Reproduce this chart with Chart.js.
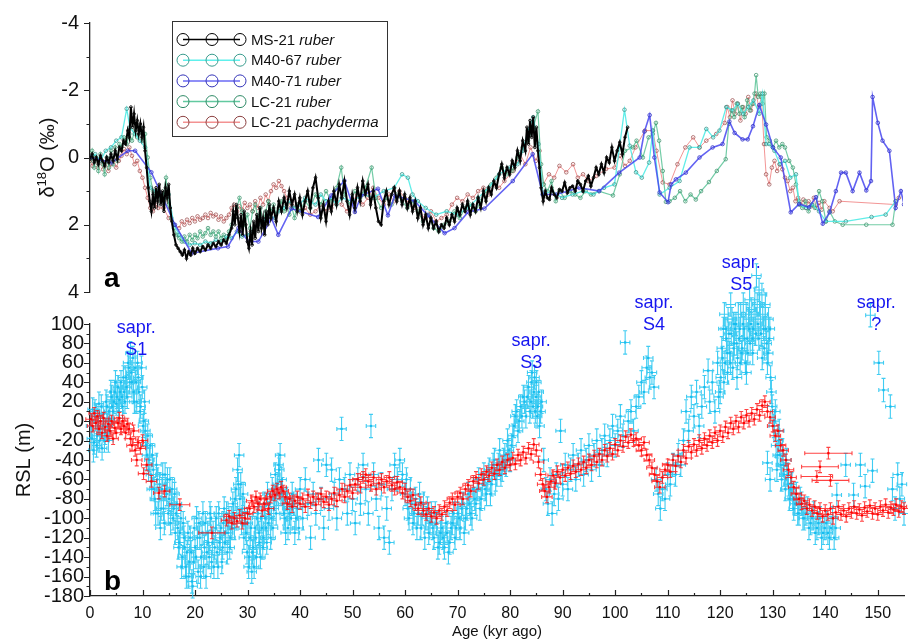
<!DOCTYPE html>
<html>
<head>
<meta charset="utf-8">
<script src="https://cdn.jsdelivr.net/npm/chart.js@4.4.0/dist/chart.umd.min.js"></script>
<style>
  body { margin: 0; background: #fff; }
  #wrap { position: relative; width: 908px; height: 641px; }
  #wrap canvas { position: absolute; left: 0; top: 0; }
</style>
</head>
<body>
<div id="wrap">
  <canvas id="rslChart" width="908" height="641"></canvas>
  <canvas id="isoChart" width="908" height="641"></canvas>
</div>
<script>
// tick labels
const ageTicks = [0, 10, 20, 30, 40, 50, 60, 70, 80, 90, 100, 110, 120, 130, 140, 150];
const d18oTicks = [-4, -2, 0, 2, 4];
const rslTicks = [-180, -160, -140, -120, -100, -80, -60, -40, -20, 0, 20, 40, 60, 80, 100];

// panel a : d18O records, [age kyr, d18O permil]
const ms21Ruber = [[0,0.05],[0.4,-0.1],[0.8,0.15],[1.2,0],[1.6,0.2],[2.0,-0.05],[2.4,0.1],[2.8,0.25],[3.2,0],[3.6,0.15],[4.0,-0.1],[4.4,0.1],[4.8,-0.2],[5.2,0.05],[5.6,-0.3],[6.0,-0.2],[6.4,-0.5],[6.8,-0.4],[7.2,-0.8],[7.5,-0.6],[7.8,-1.5],[8.1,-0.9],[8.4,-1.3],[8.7,-0.8],[9.0,-1.1],[9.3,-0.7],[9.6,-1.0],[9.9,-0.6],[10.2,-0.9],[10.5,-0.2],[10.8,0.3],[11.1,0.9],[11.4,1.3],[11.7,1.6],[12.0,1.1],[12.3,1.5],[12.6,0.9],[12.9,1.3],[13.2,0.8],[13.5,1.4],[13.8,1.0],[14.1,1.6],[14.4,0.9],[14.7,1.2],[15.0,0.8],[15.3,1.5],[15.6,1.9],[16.0,2.3],[16.4,2.6],[16.8,2.7],[17.2,2.8],[17.6,2.9],[18.0,2.75],[18.4,3.0],[18.8,2.8],[19.2,2.9],[19.6,2.7],[20.0,2.85],[20.5,2.7],[21.0,2.8],[21.5,2.65],[22.0,2.75],[22.5,2.6],[23.0,2.7],[23.5,2.55],[24.0,2.65],[24.5,2.5],[25.0,2.6],[25.5,2.45],[26.0,2.55],[26.5,2.3],[27.0,2.1],[27.3,1.6],[27.6,2.0],[27.9,1.4],[28.2,1.8],[28.5,2.2],[28.8,1.7],[29.1,2.3],[29.4,1.6],[29.7,2.0],[30.0,2.5],[30.3,2.7],[30.6,2.2],[30.9,2.6],[31.2,1.9],[31.5,2.4],[31.8,1.7],[32.1,2.2],[32.4,1.5],[32.7,2.1],[33.0,1.8],[33.3,2.3],[33.6,1.6],[33.9,2.0],[34.2,1.4],[34.5,1.8],[35.0,1.5],[35.5,1.9],[36.0,1.3],[36.5,1.6],[37.0,1.2],[37.5,1.5],[38.0,1.0],[38.5,1.4],[39.0,1.1],[39.5,1.6],[40.0,1.2],[40.5,1.7],[41.0,1.3],[41.5,1.0],[42.0,1.5],[42.5,0.9],[43.0,0.6],[43.5,1.2],[44.0,1.8],[44.5,1.4],[45.0,1.9],[45.5,1.3],[46.0,1.6],[46.5,1.0],[47.0,1.4],[47.5,0.8],[48.0,1.2],[48.5,0.7],[49.0,1.3],[49.5,1.7],[50.0,1.1],[50.5,1.5],[51.0,0.9],[51.5,1.3],[52.0,0.7],[52.5,1.1],[53.0,0.8],[53.5,1.4],[54.0,1.0],[54.5,1.5],[55.0,1.9],[55.5,2.0],[56.0,1.3],[56.5,1.0],[57.0,1.4],[57.5,1.1],[58.0,0.9],[58.5,1.3],[59.0,1.0],[59.5,1.4],[60.0,1.1],[60.5,1.5],[61.0,1.2],[61.5,1.6],[62.0,1.3],[62.5,1.8],[63.0,1.5],[63.5,2.0],[64.0,1.7],[64.5,2.1],[65.0,1.8],[65.5,2.1],[66.0,1.9],[66.5,2.2],[67.0,2.0],[67.5,2.1],[68.0,1.8],[68.5,2.0],[69.0,1.7],[69.5,1.9],[70.0,1.5],[70.5,1.7],[71.0,1.4],[71.5,1.6],[72.0,1.3],[72.5,1.7],[73.0,1.4],[73.5,1.6],[74.0,1.2],[74.5,1.5],[75.0,1.0],[75.5,1.3],[76.0,0.9],[76.5,1.1],[77.0,0.7],[77.5,0.9],[78.0,0.5],[78.5,0.2],[79.0,0.6],[79.5,0.3],[80.0,0.5],[80.5,0.1],[81.0,0.3],[81.5,-0.2],[82.0,0.1],[82.5,-0.5],[83.0,-0.2],[83.3,-0.9],[83.6,-0.4],[83.9,-1.1],[84.2,-0.6],[84.5,-1.2],[84.8,-0.3],[85.1,-0.9],[85.4,-0.2],[85.7,0.3],[86.0,0.9],[86.4,1.3],[86.8,1.0],[87.2,1.2],[87.6,1.25],[88.0,0.9],[88.5,1.1],[89.0,1.2],[89.5,0.95],[90.0,1.0],[90.5,0.75],[91.0,1.05],[91.5,0.9],[92.0,0.85],[92.5,1.0],[93.0,0.7],[93.5,0.8],[94.0,1.0],[94.5,0.7],[95.0,0.55],[95.5,0.85],[96.0,0.6],[96.5,0.3],[97.0,0.5],[97.5,0.2],[98.0,0.45],[98.5,0.0],[99.0,0.15],[99.5,-0.3],[100.0,0.1],[100.5,-0.2],[101.0,-0.45],[101.5,-0.1],[102.0,-0.6],[102.5,-0.9]];
const m4067Ruber = [[0,0],[1,-0.1],[2,0.1],[3,-0.2],[4,-0.3],[5,-0.5],[6,-0.6],[7.0,-1.45],[7.6,-0.9],[8.5,-0.7],[9.5,-0.5],[10.5,-0.3],[11.5,0.9],[12.5,1.0],[14,1.3],[15,1.1],[16,2.0],[17,2.3],[18,2.5],[19,2.6],[20,2.55],[21,2.6],[22,2.5],[23,2.55],[24,2.45],[25,2.5],[26,2.35],[27,2.4],[28,2.2],[29,2.35],[30,2.3],[31,2.2],[32,2.0],[33,1.9],[34,1.7],[35,1.8],[36,1.6],[37,1.5],[38,1.3],[39,1.5],[40,1.4],[41,1.2],[42,1.3],[43,1.4],[44,1.1],[45,1.3],[46,1.2],[47,1.4],[48,1.2],[50,1.3],[52,1.1],[54,1.2],[56,1.0],[58,0.9],[59.5,0.5],[60.6,0.6],[61.5,1.1],[62.5,1.3],[64,1.5],[66,1.7],[68,1.6],[70,1.7],[72,1.5],[74,1.2],[76,0.9],[78,0.5],[80,0.3],[81.5,0.2],[82.5,-0.2],[83.5,-0.8],[84.5,-1.2],[85.5,-0.4],[86.4,1.1],[88,1.0],[90,1.2],[92,1.1],[94,1.0],[96,1.1],[98,0.9],[100,0.8],[101.9,-1.42],[102.9,-0.35],[104.1,0.44],[105.2,0.6],[106.6,0.15],[107.3,-0.8],[108.6,1.1],[110.5,0.9],[112.4,0.7],[114.3,-0.3],[116.2,-0.3],[117.5,-0.85],[118.8,-0.6],[120,-0.8],[121.3,-1.5],[122.5,-1.4],[123.5,-1.6],[124.5,-1.3],[125.5,-1.5],[126.5,-1.7],[127.6,-1.3],[128.2,-1.9],[128.9,-0.4],[129.5,-0.4],[130.5,-0.2],[131.5,0.2],[132.5,0.1],[133.5,0.6],[134.6,0.5],[135.2,1.4],[136.5,1.5],[137.7,1.4],[139,1.6],[140.3,1.9],[144.1,1.9],[149,1.77],[151.7,1.7],[153.6,1.3]];
const m4071Ruber = [[0,0],[4.1,0.15],[7.2,-0.2],[8.6,-0.2],[11.7,0.44],[16.2,2.0],[19.4,2.85],[24.4,2.7],[26.3,2.65],[28.3,2.1],[30.2,2.5],[32.1,2.5],[34.6,1.81],[35.9,2.3],[38.4,1.52],[43.5,1.77],[46,1.13],[48.5,0.69],[50.5,1.62],[51.7,1.13],[54.9,0.93],[56.8,1.72],[58.1,1.13],[61.9,1.3],[64.4,1.72],[67.6,2.25],[69.5,2.1],[72.1,1.62],[75.2,1.52],[80.6,0.7],[84.4,-0.1],[86.3,1.1],[88.9,1.1],[93.3,0.9],[97.1,1.0],[100.9,0.45],[104.8,0.0],[105.7,-0.77],[106.7,-1.26],[107.6,0.0],[108.6,1.04],[110.2,1.33],[110.8,0.8],[111.7,0.65],[113.6,0.45],[116.2,0.0],[118.7,-0.3],[120.6,-0.4],[121.9,-1.07],[122.9,-0.73],[124.4,-0.54],[125.4,-0.54],[126.4,-0.93],[127.6,-1.56],[128.9,-0.98],[130.2,-0.3],[131.7,0.0],[133.6,1.63],[135.2,1.38],[137.1,1.48],[138.4,1.18],[139.7,1.97],[141,1.63],[142.2,1.0],[143.2,0.45],[144.1,0.45],[145.4,1.0],[146.7,0.45],[148,0.98],[148.9,0.7],[149.2,-1.8],[150.2,-1.03],[151.1,-0.5],[152.4,-0.2],[153.6,1.5],[154.6,1.0],[155.2,1.4]];
const lc21Ruber = [[0,0.1],[0.4,-0.2],[0.8,0.3],[1.2,0.0],[1.6,0.4],[2.0,-0.1],[2.4,0.2],[2.8,0.5],[3.2,0.0],[3.6,0.3],[4.0,-0.2],[4.4,0.2],[4.8,-0.3],[5.2,0.1],[5.6,-0.4],[6.0,-0.3],[6.5,-0.6],[7.0,-0.4],[7.5,-0.7],[8.0,-0.5],[8.5,-0.8],[9.0,-0.6],[9.5,-0.9],[10.0,-0.5],[10.5,-0.7],[11.0,0.0],[11.5,0.6],[12.0,1.0],[12.5,1.2],[13.0,1.0],[13.5,1.3],[14.0,1.1],[14.5,0.6],[15.0,1.4],[15.5,1.8],[16.0,2.1],[16.5,2.3],[17.0,2.4],[17.5,2.5],[18.0,2.35],[18.5,2.5],[19.0,2.3],[19.5,2.45],[20.0,2.3],[20.5,2.4],[21.0,2.2],[21.5,2.35],[22.0,2.25],[22.5,2.1],[23.0,2.3],[23.5,2.2],[24.0,2.35],[24.5,2.2],[25.0,2.4],[25.5,2.3],[26.0,2.45],[26.5,2.2],[27.0,2.0],[27.5,1.8],[28.0,1.5],[28.5,1.2],[29.0,1.6],[29.5,2.0],[30.0,1.7],[30.5,2.1],[31.0,1.6],[31.5,1.4],[32.0,1.8],[32.5,1.5],[33.0,1.9],[33.5,1.6],[34.0,1.3],[34.5,1.6],[35.0,1.4],[35.5,1.7],[36.0,1.5],[36.5,1.3],[37.0,1.6],[37.5,1.4],[38.0,1.7],[38.5,1.5],[39.0,1.8],[39.5,1.4],[40.0,1.6],[41,1.3],[42,1.5],[43,1.1],[44,1.4],[45,1.0],[46,1.3],[47,0.9],[47.9,0.3],[48.5,1.1],[49.5,1.4],[50.5,1.0],[51.5,1.2],[52.5,0.9],[53.7,0.3],[54.5,1.2],[55.5,1.5],[56.5,1.2],[57.5,1.4],[58.5,1.1],[59.5,1.3],[60.5,1.5],[61.5,1.3],[62.5,1.6],[63.5,1.9],[64.5,1.7],[65.5,2.1],[66.5,2.2],[67.5,2.0],[68.5,1.9],[69.5,1.6],[70.5,1.8],[71.5,1.5],[72.5,1.4],[73.5,1.6],[74.5,1.3],[75.5,1.0],[76.5,0.8],[77.5,0.6],[78.5,0.3],[79.5,0.5],[80.5,0.4],[81.5,0.0],[82.5,-0.3],[83.5,-0.5],[84.5,-0.9],[85.4,-1.37],[86.0,0.2],[86.5,0.8],[87.2,1.0],[88.0,0.7],[88.8,1.3],[89.5,1.0],[90.5,1.2],[91.5,1.0],[92.5,1.1],[93.5,1.2],[94.5,1.0],[95.5,1.1],[97,1.0],[99.7,1.13],[101,0.5],[102,-0.2],[103.5,-0.3],[104.2,-0.5],[105.4,0.0],[106.5,-0.6],[107.3,-0.7],[107.9,-1.03],[108.5,-0.5],[109.2,0.4],[109.8,1.32],[110.5,1.3],[111.5,1.2],[112.5,1.0],[113.5,1.3],[114.5,1.1],[115.5,1.25],[116.5,1.0],[118,0.73],[119.5,0.4],[121.2,0.05],[121.8,-1.0],[122.3,-1.4],[122.8,-1.2],[123.3,-1.6],[123.8,-1.3],[124.3,-1.5],[124.8,-1.2],[125.3,-1.7],[125.8,-1.4],[126.3,-1.6],[126.7,-1.9],[127.0,-2.45],[127.4,-1.8],[127.8,-1.9],[128.2,-1.6],[128.6,-1.9],[129.0,-0.6],[129.6,-0.5],[130.2,-0.3],[130.8,-0.5],[131.4,-0.3],[132,-0.4],[132.5,-0.3],[133.3,0.1],[134,0.3],[134.6,0.8],[135.2,1.3],[135.8,1.5],[136.4,1.3],[137,1.6],[137.6,1.4],[138.2,1.5],[139,1.0],[139.6,1.3],[140.3,1.9],[141,1.6],[142,1.9],[143.5,2.0],[148,2.0],[153,2.0],[153.6,1.3]];
const lc21Pachyderma = [[0,0.1],[0.5,0.25],[1,0.0],[1.5,0.3],[2,0.1],[2.5,0.35],[3,0.15],[3.5,0.4],[4,0.2],[4.5,0.05],[5,0.3],[5.5,0.1],[6,-0.05],[6.5,-0.25],[7,-0.1],[7.5,-0.3],[8,-0.05],[8.5,0.2],[9,0.1],[9.5,0.4],[10,0.6],[10.5,0.9],[11,1.2],[11.5,1.5],[12,1.6],[12.5,1.4],[13,1.5],[14,1.5],[15,1.8],[16,2.0],[17,2.1],[17.5,1.9],[18,2.0],[18.5,1.85],[19,1.95],[19.5,1.8],[20,1.9],[20.5,1.75],[21,1.85],[21.5,1.8],[22,1.7],[22.5,1.8],[23,1.65],[23.5,1.75],[24,1.7],[24.5,1.85],[25,1.75],[25.5,1.9],[26,1.8],[26.5,1.7],[27,1.5],[27.5,1.4],[28,1.6],[28.5,1.45],[29,1.55],[29.5,1.35],[30,1.5],[30.5,1.4],[31,1.6],[31.5,1.3],[32,1.5],[32.5,1.2],[33,1.4],[33.5,1.1],[34,1.3],[34.5,1.0],[35,0.8],[35.5,0.9],[36,0.7],[36.5,0.85],[37,1.0],[37.5,1.2],[38,1.4],[38.5,1.3],[39,1.5],[39.5,1.4],[40,1.6],[41,1.5],[42,1.7],[43,1.6],[44,1.4],[45,1.6],[46,1.5],[47,1.3],[48,1.4],[49,1.6],[50,1.3],[51,1.1],[52,1.4],[53,1.2],[54,0.9],[55,1.2],[56,1.4],[57,1.1],[58,1.3],[59,1.0],[60,1.2],[61,1.4],[62,1.5],[63,1.7],[64,1.8],[65,1.6],[66,1.9],[67,1.8],[68,1.7],[69,1.4],[70,1.2],[71,1.3],[72,1.1],[73,1.2],[74,1.0],[75,0.9],[76,1.1],[77,0.8],[78,0.9],[79,0.7],[80.7,0.4],[82,-0.1],[83,0.2],[84,-0.3],[85,0.1],[85.7,-0.2],[86.4,0.8],[87.5,0.5],[88.5,0.6],[89.5,0.25],[90.8,0.44],[92.1,0.2],[93,0.6],[94,0.5],[95,0.7],[96.5,0.55],[98.4,0.34],[100,0.3],[101,-0.05],[102,0.25],[102.9,0.1],[104,-0.3],[105.8,-0.8],[107.3,-0.8],[108,-0.2],[109.2,0.74],[110.5,0.8],[112,0.2],[113.5,-0.3],[115,-0.6],[116.2,-0.3],[117.5,-0.5],[119.4,-0.7],[121,-1.03],[121.5,-1.5],[122,-1.2],[122.5,-1.7],[123,-1.3],[123.5,-1.6],[124,-1.1],[124.5,-1.5],[125,-1.3],[125.5,-1.8],[126,-1.4],[126.5,-1.6],[127,-1.9],[127.5,-1.5],[128,-1.8],[128.5,-0.4],[128.9,0.5],[129.5,0.8],[130,0.3],[130.5,0.1],[131,0.4],[131.5,0.2],[132,0.35],[132.5,0.6],[133,0.7],[133.5,1.0],[134,0.9],[134.5,1.3],[135,1.2],[135.5,1.4],[136,1.25],[136.5,1.5],[137,1.3],[137.5,1.45],[138,1.2],[138.5,1.5],[139,1.35],[139.5,1.55],[140,1.3],[141,1.5],[141.6,1.6],[142.9,1.3],[153.6,1.4],[154.2,1.2]];

// panel b : relative sea level, [age kyr, RSL m]
const rslCyan = [[0.2,-5],[0.5,12],[0.8,-22],[1.1,5],[1.4,-15],[1.7,18],[2.0,-8],[2.3,-28],[2.6,8],[2.9,-12],[3.2,15],[3.5,-20],[3.8,2],[4.1,25],[4.4,10],[4.7,30],[5.0,18],[5.3,35],[5.6,22],[5.9,40],[6.2,15],[6.5,30],[6.8,45],[7.1,25],[7.4,55],[7.7,70],[8.0,40],[8.3,30],[8.6,55],[8.9,20],[9.2,45],[9.5,10],[9.8,55],[10.1,-5],[10.4,20],[10.7,-25],
  [11.0,-15],[11.3,-40],[11.6,-55],[11.9,-35],[12.2,-70],[12.5,-95],[12.8,-60],[13.1,-80],[13.4,-110],[13.7,-70],[14.0,-90],[14.3,-55],[14.6,-75],[14.9,-95],[15.2,-60],[15.5,-85],[15.8,-100],[16.1,-75],[16.4,-95],[16.7,-110],[17.0,-125],[17.3,-100],[17.6,-140],[17.9,-120],[18.2,-150],[18.5,-135],[18.8,-160],[19.1,-120],[19.4,-165],[19.7,-145],[20.0,-130],
  [20.3,-100],[20.6,-155],[20.9,-120],[21.2,-140],[21.5,-95],[21.8,-130],[22.1,-160],[22.4,-115],[22.7,-140],[23.0,-100],[23.3,-125],[23.6,-150],[23.9,-110],[24.2,-135],[24.5,-95],[24.8,-120],[25.1,-145],[25.4,-105],[25.7,-125],[26.0,-95],[26.3,-115],[26.6,-130],[26.9,-100],[27.2,-85],[27.5,-110],[27.8,-70],[28.1,-50],[28.4,-35],[28.7,-65],[29.0,-90],[29.3,-120],[29.6,-105],[29.9,-135],
  [30.2,-150],[30.5,-120],[30.8,-155],[31.1,-130],[31.4,-110],[31.7,-140],[32.0,-95],[32.3,-125],[32.6,-100],[32.9,-130],[33.2,-85],[33.5,-110],[33.8,-75],[34.1,-95],[34.4,-120],[34.7,-70],[35.0,-90],[35.3,-55],[35.6,-75],[35.9,-45],[36.2,-35],[36.5,-60],[36.8,-85],[37.1,-100],[37.4,-80],[37.7,-110],[38.0,-95],[38.5,-75],[39.0,-115],[39.5,-90],[40.0,-70],
  [40.5,-100],[41.0,-60],[41.5,-85],[42.0,-120],[42.5,-75],[43.0,-95],[43.5,-40],[44.0,-80],[44.5,-110],[45.0,-45],[45.5,-90],[46.0,-50],[46.5,-75],[47.0,-100],[47.5,-60],[47.9,-8],[48.5,-70],[49.0,-95],[49.5,-55],[50.0,-80],
  [50.5,-105],[51.0,-60],[51.5,-85],[52.0,-45],[52.5,-70],[53.0,-95],[53.5,-5],[54.0,-55],[54.5,-80],[55.0,-110],[55.5,-65],[56.0,-120],[56.5,-90],[57.0,-125],[57.5,-70],[58.0,-45],[58.5,-60],[59.0,-40],[59.5,-55],[60.0,-75],
  [60.5,-90],[61.0,-70],[61.5,-105],[62.0,-80],[62.5,-95],[63.0,-110],[63.5,-85],[64.0,-100],[64.5,-115],[65.0,-95],[65.5,-120],[66.0,-105],[66.5,-125],[67.0,-110],[67.5,-130],[68.0,-115],[68.5,-125],[69.0,-105],[69.5,-120],[70.0,-95],
  [70.5,-110],[71.0,-85],[71.5,-100],[72.0,-75],[72.5,-95],[73.0,-70],[73.5,-85],[74.0,-60],[74.5,-80],[75.0,-55],[75.5,-75],[76.0,-50],[76.5,-65],[77.0,-40],[77.5,-55],[78.0,-30],[78.5,-50],[79.0,-35],[79.5,-20],[80.0,-40],
  [80.5,-15],[81.0,5],[81.5,-10],[82.0,15],[82.5,25],[83.0,5],[83.5,35],[84.0,20],[84.2,50],[84.5,30],[84.8,10],[85.0,40],[85.3,15],[85.6,-5],[86.0,20],[86.4,-40],[86.8,-70],[87.2,-85],[87.6,-60],[88.0,-95],[88.4,-75],[88.8,-55],[89.2,-80],[89.6,-10],[90.0,-65],
  [90.5,-45],[91.0,-70],[91.5,-50],[92.0,-35],[92.5,-60],[93.0,-45],[93.5,-30],[94.0,-55],[94.5,-40],[95.0,-25],[95.5,-50],[96.0,-35],[96.5,-20],[97.0,-45],[97.5,-30],[98.0,-15],[98.5,-35],[99.0,-20],[99.5,-5],[100.0,-25],
  [100.5,-10],[101.0,5],[101.5,-15],[101.9,81],[102.5,0],[103.0,10],[103.5,-10],[104.0,15],[104.5,25],[105.0,40],[105.5,30],[106.0,55],[106.3,65],[106.6,45],[107.0,50],[107.4,35],[107.8,-60],[108.2,-75],[108.6,-90],[109.0,-70],[109.5,-80],[110.0,-55],
  [110.5,-65],[111.0,-45],[111.5,-55],[112.0,-35],[112.5,-45],[113.0,-20],[113.5,10],[114.0,-10],[114.5,25],[115.0,5],[115.5,30],[116.0,-5],[116.5,15],[117.0,35],[117.7,52],[118.0,20],[118.5,40],[119.0,10],[119.5,60],[120.0,30],
  [120.1,45],[120.3,75],[120.6,95],[120.8,110],[120.9,60],[121.2,85],[121.4,50],[121.5,105],[121.8,70],[122.0,120],[122.1,90],[122.4,55],[122.6,100],[122.7,80],[123.0,100],[123.2,45],[123.3,65],[123.6,85],[123.8,60],[123.9,110],[124.2,75],[124.4,120],[124.5,95],[124.8,60],[125.0,50],[125.1,85],[125.4,105],[125.6,125],[125.7,80],[126.0,115],[126.2,70],[126.3,95],[126.6,125],[126.8,105],[126.9,150],[127.2,100],[127.4,135],[127.5,120],[127.8,90],[128.0,65],[128.1,110],[128.4,75],[128.6,120],[128.7,95],[129.0,60],[129.2,105],[129.3,85],[129.6,45],
  [129.0,-43],[129.5,-60],[129.9,15],[130.2,-5],[130.5,10],[130.8,-50],[131.1,-20],[131.4,-35],[131.7,-60],[132.0,-45],[132.4,-70],[132.8,-55],[133.2,-80],[133.6,-65],[134.0,-90],[134.5,-75],[135.0,-95],[135.5,-85],[136.0,-100],[136.6,-90],[137.2,-105],[137.8,-95],[138.4,-110],[139.0,-100],[139.6,-115],[140.2,-105],
  [140.8,-120],[141.4,-100],[142.0,-110],[142.2,-76],[143.9,-45],[145.4,-76],[146.7,-45],[147.6,-67],[148.6,109],[149.0,-51],[150.2,60],[151.1,32],[152.4,15],[152.8,-70],[153.3,-90],[153.8,-55],[154.2,-80],[154.6,-65],[155.0,-95]];
// more cyan samples where the record is densest
const rslCyanDense = [[0.35,-18],[0.65,-30],[0.95,10],[1.25,-25],[1.55,0],[1.85,-20],[2.15,15],[2.45,-5],[2.75,-20],[3.05,20],[3.35,-5],[3.65,10],[3.95,30],[4.25,15],[4.55,20],[4.85,40],[5.15,25],[5.45,10],[5.75,30],[6.05,25],[6.35,45],[6.65,20],[6.95,35],[7.25,60],[7.55,40],[7.85,50],[8.15,65],[8.45,20],[8.75,40],[9.05,60],[9.35,30],[9.65,15],[9.95,35],[10.25,0],[10.55,-10],[10.85,-35],
  [11.15,-50],[11.45,-25],[11.75,-70],[12.05,-50],[12.35,-80],[12.65,-45],[12.95,-95],[13.25,-65],[13.55,-90],[13.85,-55],[14.15,-105],[14.45,-70],[14.75,-60],[15.05,-80],[15.35,-105],[15.65,-70],[15.95,-90],[16.25,-115],[16.55,-85],[16.85,-130],[17.15,-115],[17.45,-150],[17.75,-105],[18.05,-130],[18.35,-160],[18.65,-115],[18.95,-145],[19.25,-135],[19.55,-170],[19.85,-110],
  [20.15,-140],[20.45,-120],[20.75,-105],[21.05,-160],[21.35,-115],[21.65,-150],[21.95,-105],[22.25,-135],[22.55,-125],[22.85,-95],[23.15,-145],[23.45,-115],[23.75,-130],[24.05,-100],[24.35,-150],[24.65,-125],[24.95,-110],[25.25,-130],[25.55,-90],[25.85,-115],[26.15,-135],[26.45,-100],[26.75,-120],[27.05,-110],[27.35,-95],[27.65,-80],[27.95,-100],[28.25,-65],[28.55,-80],[28.85,-105],[29.15,-75],[29.45,-95],[29.75,-115],
  [30.05,-105],[30.35,-140],[30.65,-110],[30.95,-135],[31.25,-150],[31.55,-120],[31.85,-100],[32.15,-115],[32.45,-140],[32.75,-110],[33.05,-120],[33.35,-100],[33.65,-125],[33.95,-105],[34.25,-85],[34.55,-100],[34.85,-110],[35.15,-80],[35.45,-95],[35.75,-65],[36.05,-50],[36.35,-75],[36.65,-70],[36.95,-95],[37.25,-115],[37.55,-90],[38.25,-100],[38.75,-85],[39.25,-100],[39.75,-110],
  [60.25,-60],[60.75,-100],[61.25,-85],[61.75,-95],[62.25,-110],[62.75,-75],[63.25,-95],[63.75,-120],[64.25,-90],[64.75,-105],[65.25,-110],[65.75,-95],[66.25,-130],[66.75,-115],[67.25,-120],[67.75,-105],[68.25,-135],[68.75,-110],[69.25,-95],[69.75,-110],[70.25,-100],[70.75,-90],[71.25,-115],[71.75,-90],[72.25,-85],[72.75,-100],[73.25,-80],[73.75,-70],[74.25,-90],[74.75,-65],[75.25,-70],[75.75,-60],[76.25,-75],[76.75,-45],[77.25,-60],[77.75,-45],[78.25,-55],[78.75,-40],[79.25,-45],[79.75,-30],
  [80.25,-25],[80.75,-5],[81.25,10],[81.75,0],[82.25,5],[82.75,20],[83.25,25],[83.75,10],[84.05,40],[84.35,15],[84.65,45],[84.95,25],[85.15,5],[85.45,30],[85.8,10],
  [119.7,25],[120.45,65],[120.7,40],[121.05,95],[121.35,70],[121.65,90],[121.95,60],[122.25,105],[122.55,75],[122.85,95],[123.15,80],[123.45,110],[123.75,95],[124.05,70],[124.35,100],[124.65,85],[124.95,110],[125.25,70],[125.55,95],[125.85,100],[126.15,85],[126.45,110],[126.75,90],[127.05,120],[127.35,85],[127.65,105],[127.95,130],[128.25,95],[128.55,105],[128.85,80],[129.15,70],[129.45,95],[129.75,30],
  [130.35,0],[130.65,-25],[130.95,-35],[131.25,-10],[131.55,-45],[131.85,-30],[132.2,-55],[132.6,-40],[133.0,-65],[133.4,-70],[133.8,-80],[134.25,-85],[134.75,-95],[135.25,-80],[135.75,-100],[136.3,-95],[136.9,-110],[137.5,-100],[138.1,-115],[138.7,-105],[139.3,-120],[139.9,-110],[140.5,-115],[141.1,-110],[141.7,-120]];
const rslRed = [[0.2,2],[0.5,-5],[0.8,8],[1.1,-2],[1.4,5],[1.7,-8],[2.0,0],[2.3,-12],[2.6,3],[2.9,-6],[3.2,-15],[3.5,-3],[3.8,-10],[4.1,0],[4.4,-18],[4.7,-7],[5.0,-12],[5.3,-2],[5.6,3],[5.9,-8],[6.2,0],[6.5,-5],[6.8,-12],[7.1,-3],[7.4,-8],[7.7,-18],[8.0,-25],[8.3,-10],[8.6,-30],[8.9,-40],[9.2,-22],[9.6,-28],[10.0,-20],[10.2,-54],[10.8,-45],[11.7,-62],[13.1,-74],[14.2,-72],
  [26.0,-102],[26.5,-98],[27.0,-105],[27.5,-100],[28.0,-103],[28.5,-97],[29.0,-105],[29.5,-100],[30.0,-95],[30.4,-90],[30.8,-82],[31.2,-88],[31.6,-78],[32.0,-85],[32.4,-80],[32.8,-92],[33.2,-85],[33.6,-80],[34.0,-90],[34.4,-78],[34.8,-72],[35.2,-76],[35.6,-70],[36.0,-74],[36.4,-68],[36.8,-72],[37.2,-78],[37.6,-85],[38.0,-80],[38.5,-88],[39.0,-82],[39.5,-78],[40.0,-85],
  [40.5,-80],[41.0,-88],[41.5,-76],[42.0,-84],[42.5,-78],[43.0,-86],[43.5,-80],[44.0,-75],[44.5,-83],[45.0,-78],[45.5,-86],[46.0,-80],[46.5,-74],[47.0,-82],[47.5,-76],[48.0,-70],[48.5,-78],[49.0,-72],[49.5,-66],[50.0,-74],[50.5,-65],[51.0,-60],[51.5,-68],[52.0,-58],[52.5,-55],[53.0,-62],[53.5,-66],[54.0,-58],[54.5,-70],[55.0,-64],[55.5,-60],[56.0,-68],[56.5,-62],[57.0,-58],[57.5,-66],[58.0,-70],[58.5,-63],[59.0,-68],[59.5,-74],[60.0,-70],
  [60.5,-78],[61.0,-82],[61.5,-76],[62.0,-86],[62.5,-90],[63.0,-84],[63.5,-92],[64.0,-96],[64.5,-90],[65.0,-98],[65.5,-94],[66.0,-100],[66.5,-92],[67.0,-96],[67.5,-88],[68.0,-92],[68.5,-84],[69.0,-80],[69.5,-86],[70.0,-78],[70.5,-74],[71.0,-80],[71.5,-70],[72.0,-66],[72.5,-72],[73.0,-62],[73.5,-58],[74.0,-64],[74.5,-55],[75.0,-60],[75.5,-52],[76.0,-56],[76.5,-48],[77.0,-54],[77.5,-45],[78.0,-50],[78.5,-42],[79.0,-48],[79.5,-40],[80.0,-45],
  [80.5,-38],[81.0,-44],[81.5,-35],[82.0,-40],[82.5,-32],[83.0,-38],[83.5,-28],[84.0,-34],[84.5,-24],[85.0,-30],[85.4,-42],[85.8,-55],[86.2,-65],[86.6,-72],[87.0,-78],[87.4,-68],[87.8,-62],[88.2,-56],[88.6,-64],[89.0,-52],[89.5,-58],[90.0,-50],[90.5,-56],[91.0,-48],[91.5,-54],[92.0,-46],[92.5,-52],[93.0,-44],[93.5,-50],[94.0,-42],[94.5,-48],[95.0,-40],[95.5,-45],[96.0,-36],[96.5,-42],[97.0,-34],[97.5,-40],[98.0,-30],[98.5,-36],[99.0,-28],[99.5,-34],[100.0,-24],
  [100.5,-30],[101.0,-20],[101.5,-26],[102.0,-16],[102.5,-22],[103.0,-14],[103.5,-20],[104.0,-18],[104.5,-25],[105.0,-30],[105.5,-22],[106.0,-35],[106.5,-40],[107.0,-48],[107.5,-55],[108.0,-62],[108.5,-68],[109.0,-58],[109.5,-50],[110.0,-45],[110.5,-52],[111.0,-40],[111.5,-46],[112.0,-36],[112.5,-42],[113.0,-30],[113.5,-38],[114.0,-26],[114.5,-32],[115.0,-24],[115.5,-30],[116.0,-20],[116.5,-28],[117.0,-18],[117.5,-25],[118.0,-15],[118.5,-22],[119.0,-12],[119.5,-20],[120.0,-10],
  [120.5,-16],[121.0,-6],[121.5,-12],[122.0,-2],[122.5,-8],[123.0,0],[123.5,-6],[124.0,4],[124.5,-2],[125.0,6],[125.5,0],[126.0,8],[126.5,2],[127.0,12],[127.5,6],[128.0,16],[128.5,20],[129.0,10],[129.5,4],[130.0,-5],[130.5,-15],[131.0,-10],[131.5,-25],[132.0,-30],[132.5,-40],[133.0,-50],[133.5,-58],[134.0,-68],[134.5,-75],[135.0,-80],[135.5,-85],[136.0,-82],[136.5,-90],[137.0,-86],[137.5,-92],[138.0,-88],[138.5,-95],[139.0,-90],[139.5,-98],[140.0,-92],
  [140.5,-96],[141.0,-90],[141.5,-100],[142.0,-94],[142.5,-88],[143.0,-96],[143.5,-92],[144.0,-98],[144.5,-90],[145.0,-94],[145.5,-88],[146.0,-95],[146.5,-91],[147.0,-97],[147.5,-89],[148.0,-93],[148.5,-87],[149.0,-95],[149.5,-90],[150.0,-96],[150.5,-88],[151.0,-92],[151.5,-86],[152.0,-94],[152.5,-89],[153.0,-91],[153.5,-86],[154.0,-93],[154.5,-88],[155.0,-90]];
// red points with wide age uncertainty, [age, RSL, age error]
const rslRedWide = [[17.1,-86,1.9],[23.2,-115,2.5],[138.4,-57,3],[139.0,-47,3.5],[140.6,-33,4.5],[141.0,-61,3.5]];

// sapropel labels, [age, RSL of first line, second line]
const sapropels = [[8.8, 91, 'S1'], [84.0, 77, 'S3'], [107.4, 116, 'S4'], [124.0, 158, 'S5'], [149.7, 116, '?']];

const FONT = '"Liberation Sans", Arial, sans-serif';
Chart.defaults.font.family = FONT;
Chart.defaults.color = '#111';

const pts = arr => arr.map(p => ({ x: p[0], y: p[1] }));

function fixTicks(values) {
  return scale => { scale.ticks = values.map(v => ({ value: v })); };
}

// small tick marks, major + minor, drawn along the axis lines
function drawTicks(ctx, scale, values, horizontal, area) {
  ctx.save();
  ctx.strokeStyle = '#222';
  ctx.lineWidth = 1.2;
  ctx.beginPath();
  values.forEach((v, i) => {
    const p = Math.round(scale.getPixelForValue(v)) + 0.5;
    if (horizontal) { ctx.moveTo(p, area.bottom); ctx.lineTo(p, area.bottom - 6); }
    else { ctx.moveTo(area.left, p); ctx.lineTo(area.left - 6, p); }
    if (i < values.length - 1) {
      const m = Math.round(scale.getPixelForValue((v + values[i + 1]) / 2)) + 0.5;
      if (horizontal) { ctx.moveTo(m, area.bottom); ctx.lineTo(m, area.bottom - 3); }
      else { ctx.moveTo(area.left, m); ctx.lineTo(area.left - 3.5, m); }
    }
  });
  ctx.stroke();
  ctx.restore();
}

const legendRows = [
  { name: 'MS-21 ', sp: 'ruber', line: '#000000', ring: '#000000' },
  { name: 'M40-67 ', sp: 'ruber', line: '#5ef0ec', ring: '#3a9c8e' },
  { name: 'M40-71 ', sp: 'ruber', line: '#6a6af5', ring: '#3434b8' },
  { name: 'LC-21 ', sp: 'ruber', line: '#62c9a0', ring: '#2f8a66' },
  { name: 'LC-21 ', sp: 'pachyderma', line: '#f39292', ring: '#8c4040' }
];

const isoDecor = {
  id: 'isoDecor',
  afterDraw(chart) {
    const { ctx, chartArea: a, scales } = chart;
    drawTicks(ctx, scales.y, d18oTicks, false, a);

    // axis title with superscript
    ctx.save();
    ctx.translate(47, (a.top + a.bottom) / 2);
    ctx.rotate(-Math.PI / 2);
    ctx.fillStyle = '#111';
    ctx.textBaseline = 'alphabetic';
    ctx.font = '20px ' + FONT;
    const w1 = ctx.measureText('δ').width, w3 = ctx.measureText('O (‰)').width;
    ctx.font = '13px ' + FONT;
    const w2 = ctx.measureText('18').width;
    let x = -(w1 + w2 + w3) / 2;
    ctx.font = '20px ' + FONT; ctx.fillText('δ', x, 7); x += w1;
    ctx.font = '13px ' + FONT; ctx.fillText('18', x, -1); x += w2;
    ctx.font = '20px ' + FONT; ctx.fillText('O (‰)', x, 7);
    ctx.restore();

    // panel letter
    ctx.save();
    ctx.fillStyle = '#000';
    ctx.font = 'bold 28px ' + FONT;
    ctx.fillText('a', a.left + 14, a.bottom - 5);
    ctx.restore();

    // legend
    ctx.save();
    ctx.strokeStyle = '#333';
    ctx.lineWidth = 1;
    ctx.strokeRect(172.5, 21.5, 215, 115);
    legendRows.forEach((r, i) => {
      const y = 39.5 + i * 20.7;
      ctx.strokeStyle = r.line;
      ctx.lineWidth = 1.5;
      ctx.beginPath(); ctx.moveTo(183, y); ctx.lineTo(240, y); ctx.stroke();
      ctx.strokeStyle = r.ring;
      ctx.lineWidth = 1;
      [183, 212, 240].forEach(cx => { ctx.beginPath(); ctx.arc(cx, y, 6, 0, Math.PI * 2); ctx.stroke(); });
      ctx.fillStyle = '#111';
      ctx.textBaseline = 'middle';
      ctx.font = '15px ' + FONT;
      ctx.fillText(r.name, 251, y + 1);
      const w = ctx.measureText(r.name).width;
      ctx.font = 'italic 15px ' + FONT;
      ctx.fillText(r.sp, 251 + w, y + 1);
    });
    ctx.restore();
  }
};

const errorBars = {
  id: 'errorBars',
  beforeDatasetDraw(chart, args) {
    const ds = chart.data.datasets[args.index];
    if (!ds.err) return;
    const { ctx, scales: { x, y } } = chart;
    ctx.save();
    ctx.strokeStyle = ds.barColor;
    ctx.lineWidth = 1.1;
    ctx.beginPath();
    ds.data.forEach(p => {
      const ex = p.ex || ds.err[0], ey = ds.err[1];
      const px = x.getPixelForValue(p.x), py = y.getPixelForValue(p.y);
      const x0 = x.getPixelForValue(p.x - ex), x1 = x.getPixelForValue(p.x + ex);
      const y0 = y.getPixelForValue(p.y + ey), y1 = y.getPixelForValue(p.y - ey);
      ctx.moveTo(x0, py); ctx.lineTo(x1, py);
      ctx.moveTo(px, y0); ctx.lineTo(px, y1);
      ctx.moveTo(px - 2, y0); ctx.lineTo(px + 2, y0);
      ctx.moveTo(px - 2, y1); ctx.lineTo(px + 2, y1);
      ctx.moveTo(x0, py - 2); ctx.lineTo(x0, py + 2);
      ctx.moveTo(x1, py - 2); ctx.lineTo(x1, py + 2);
    });
    ctx.stroke();
    ctx.restore();
  }
};

const rslDecor = {
  id: 'rslDecor',
  afterDraw(chart) {
    const { ctx, chartArea: a, scales } = chart;
    drawTicks(ctx, scales.y, rslTicks, false, a);
    drawTicks(ctx, scales.x, ageTicks, true, a);
    ctx.save();
    ctx.fillStyle = '#000';
    ctx.font = 'bold 28px ' + FONT;
    ctx.fillText('b', a.left + 14, a.bottom - 6);
    ctx.fillStyle = '#1616f0';
    ctx.font = '18px ' + FONT;
    ctx.textAlign = 'center';
    sapropels.forEach(s => {
      const px = scales.x.getPixelForValue(s[0]);
      const py = scales.y.getPixelForValue(s[1]);
      ctx.fillText('sapr.', px, py);
      ctx.fillText(s[2], px, py + 22);
    });
    ctx.restore();
  }
};

function lineSet(data, line, ring, width, radius) {
  return {
    data: pts(data), showLine: true, borderColor: line, borderWidth: width, tension: 0,
    pointRadius: radius, pointBorderWidth: 1, pointBorderColor: ring,
    pointBackgroundColor: 'rgba(255,255,255,0)'
  };
}

const axisBorder = { display: true, color: '#222', width: 1.3 };

new Chart(document.getElementById('isoChart'), {
  type: 'scatter',
  data: {
    datasets: [
      lineSet(ms21Ruber, '#000000', '#111111', 2, 1.3),
      lineSet(m4071Ruber, 'rgba(70,70,240,0.85)', 'rgba(50,50,200,0.8)', 1.6, 1.8),
      lineSet(m4067Ruber, 'rgba(80,235,230,0.9)', 'rgba(60,150,140,0.8)', 1.3, 1.8),
      lineSet(lc21Ruber, 'rgba(90,195,150,0.85)', 'rgba(50,140,100,0.7)', 1.2, 1.8),
      lineSet(lc21Pachyderma, 'rgba(240,130,130,0.85)', 'rgba(150,70,70,0.7)', 1, 1.8)
    ]
  },
  options: {
    responsive: false, animation: false, events: [],
    layout: { padding: { left: 0, right: 4, top: 20, bottom: 349 } },
    plugins: { legend: { display: false }, tooltip: { enabled: false } },
    scales: {
      x: { type: 'linear', min: 0, max: 155, display: false },
      y: {
        type: 'linear', min: -4, max: 4, reverse: true,
        afterBuildTicks: fixTicks(d18oTicks),
        afterFit: s => { s.width = 90; },
        grid: { display: false, drawTicks: false },
        border: axisBorder,
        ticks: { font: { size: 20 }, padding: 11, autoSkip: false }
      }
    }
  },
  plugins: [isoDecor]
});

const redWidePts = rslRedWide.map(p => ({ x: p[0], y: p[1], ex: p[2] }));

new Chart(document.getElementById('rslChart'), {
  type: 'scatter',
  data: {
    datasets: [
      {
        data: pts(rslRed).concat(redWidePts), err: [1.0, 6], barColor: 'rgba(255,20,20,0.8)',
        pointStyle: 'rect', pointRadius: 1.6, borderWidth: 0,
        backgroundColor: '#ff0000', clip: false
      },
      {
        data: pts(rslCyan).concat(pts(rslCyanDense)), err: [0.9, 12], barColor: 'rgba(30,195,240,0.85)',
        pointStyle: 'rect', pointRadius: 1.6, borderWidth: 0,
        backgroundColor: '#16bdf0', clip: false
      }
    ]
  },
  options: {
    responsive: false, animation: false, events: [],
    layout: { padding: { left: 0, right: 4, top: 324, bottom: 0 } },
    plugins: { legend: { display: false }, tooltip: { enabled: false } },
    scales: {
      x: {
        type: 'linear', min: 0, max: 155,
        afterBuildTicks: fixTicks(ageTicks),
        afterFit: s => { s.height = 45; },
        grid: { display: false, drawTicks: false },
        border: axisBorder,
        ticks: { font: { size: 16 }, padding: 8, maxRotation: 0, autoSkip: false },
        title: { display: true, text: 'Age (kyr ago)', font: { size: 15 }, padding: { top: 0, bottom: 0 } }
      },
      y: {
        type: 'linear', min: -180, max: 100,
        afterBuildTicks: fixTicks(rslTicks),
        afterFit: s => { s.width = 90; },
        grid: { display: false, drawTicks: false },
        border: axisBorder,
        ticks: { font: { size: 20 }, padding: 6, autoSkip: false },
        title: { display: true, text: 'RSL (m)', font: { size: 20 }, padding: { top: 12, bottom: 0 } }
      }
    }
  },
  plugins: [errorBars, rslDecor]
});
</script>
</body>
</html>
